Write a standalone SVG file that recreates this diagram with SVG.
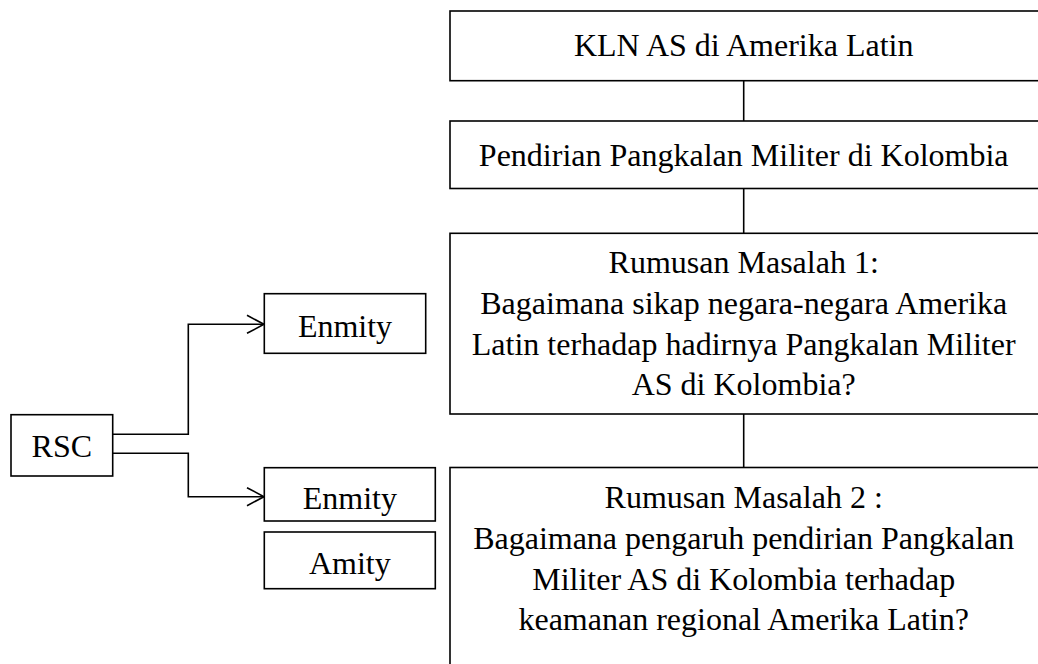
<svg xmlns="http://www.w3.org/2000/svg" width="1038" height="664" viewBox="0 0 1038 664">
<style>
.box{fill:#fff;stroke:#000;stroke-width:1.6}
.t{font-family:"Liberation Serif","Times New Roman",serif;font-size:32px;fill:#000;text-anchor:middle}
.c{fill:none;stroke:#000;stroke-width:1.6}
</style>
<defs>
<marker id="arr" markerWidth="20" markerHeight="20" refX="18" refY="10" orient="auto" markerUnits="userSpaceOnUse">
<path d="M1,1 L18,10 L1,19" fill="none" stroke="#000" stroke-width="1.6"/>
</marker>
</defs>
<rect width="1038" height="664" fill="#fff"/>
<g id="connectors">
<line class="c" x1="743.7" y1="80.7" x2="743.7" y2="121"/>
<line class="c" x1="743.7" y1="188.5" x2="743.7" y2="233.3"/>
<line class="c" x1="743.7" y1="414" x2="743.7" y2="467.5"/>
<path class="c" d="M112.7,434.3 H188.3 V324.3 H264" marker-end="url(#arr)"/>
<path class="c" d="M112.7,453.3 H188.3 V496.7 H264" marker-end="url(#arr)"/>
</g>
<g id="n1"><rect class="box" x="450" y="11" width="590" height="69.7"/><text class="t" x="743.7" y="56">KLN AS di Amerika Latin</text></g>
<g id="n2"><rect class="box" x="450" y="121" width="590" height="67.5"/><text class="t" x="743.7" y="166">Pendirian Pangkalan Militer di Kolombia</text></g>
<g id="n3"><rect class="box" x="450" y="233.3" width="590" height="180.7"/>
<text class="t" x="743.7" y="273">Rumusan Masalah 1:</text>
<text class="t" x="743.7" y="314">Bagaimana sikap negara-negara Amerika</text>
<text class="t" x="743.7" y="355">Latin terhadap hadirnya Pangkalan Militer</text>
<text class="t" x="743.7" y="395">AS di Kolombia?</text></g>
<g id="n4"><rect class="box" x="450" y="467.5" width="590" height="210"/>
<text class="t" x="743.7" y="508">Rumusan Masalah 2 :</text>
<text class="t" x="743.7" y="549">Bagaimana pengaruh pendirian Pangkalan</text>
<text class="t" x="743.7" y="590">Militer AS di Kolombia terhadap</text>
<text class="t" x="743.7" y="630">keamanan regional Amerika Latin?</text></g>
<g id="rsc"><rect class="box" x="11" y="414.7" width="101.7" height="61.3"/><text class="t" x="61.8" y="457">RSC</text></g>
<g id="enmity1"><rect class="box" x="264.3" y="293.7" width="161.4" height="59.6"/><text class="t" x="345" y="337">Enmity</text></g>
<g id="enmity2"><rect class="box" x="264.3" y="467.7" width="171" height="53.3"/><text class="t" x="349.8" y="509">Enmity</text></g>
<g id="amity"><rect class="box" x="264.3" y="532" width="171" height="56.7"/><text class="t" x="349.8" y="574">Amity</text></g>
</svg>
